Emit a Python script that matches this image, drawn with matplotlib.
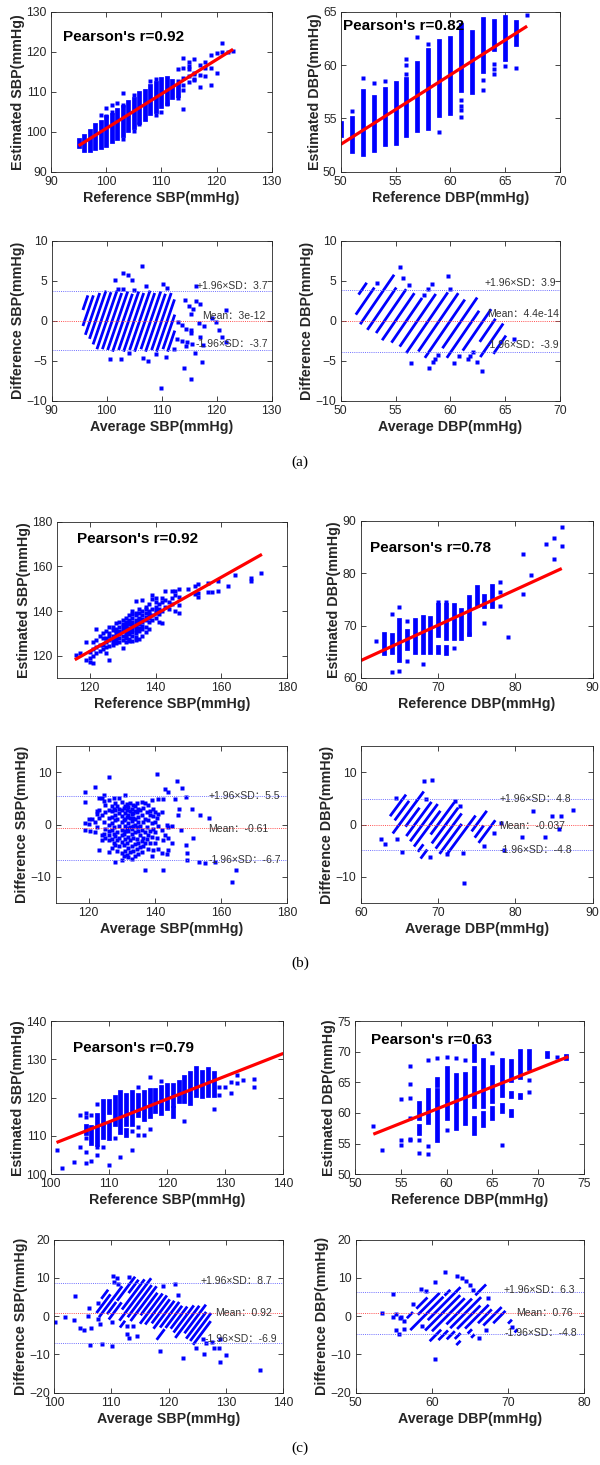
import numpy as np
import matplotlib
matplotlib.use("Agg")
import matplotlib.pyplot as plt
from matplotlib.collections import LineCollection

plt.rcParams['font.family'] = ['Liberation Sans', 'Noto Sans CJK SC', 'DejaVu Sans']

BLUE = '#0000ff'
INK = '#262626'

# ---------------- data ----------------
# reference values sit on integer columns; each column has a dense range of
# estimated values (lo..hi) plus some isolated points

# (a) SBP
a_sbp_ref = [95, 96, 97, 98, 99, 100, 101, 102, 103, 104, 105, 106, 107, 108, 109, 110, 111, 112, 113]
a_sbp_lo = [96.5, 95.5, 95.4, 95.9, 96.2, 96.6, 97.6, 98.5, 99.3, 100.5, 101.3, 102.5, 103.3, 104.6, 105.3, 106.5, 107.3, 108.6, 109.3]
a_sbp_hi = [98, 99, 100.3, 101.6, 102.4, 103.6, 104.3, 105.5, 106.2, 107.5, 108.3, 109.6, 110.3, 111.5, 112.2, 113.3, 113.5, 112.6, 111.6]
a_sbp_xref = [113, 114, 115, 116, 116, 116, 116, 117, 114, 115, 116, 117, 118, 118, 120, 118, 119, 120, 121, 122,
              121, 117, 119, 114, 111, 110, 109, 106, 105, 103, 100, 101, 102, 99, 100, 103, 105, 108, 109, 103,
              101, 123, 113, 114, 115, 113, 114, 115, 119, 115, 114]
a_sbp_xest = [115.6, 115.9, 115.8, 114.8, 114.5, 113.3, 112.9, 114.1, 118.4, 117.5, 118.1, 116.7, 116, 114, 114.8, 117.4, 119.3, 119.8, 119.9, 120,
              122.3, 111.1, 111.7, 105.6, 106.9, 105, 104.3, 102, 100.2, 98.2, 106, 106.7, 107.1, 104.1, 104, 109.8, 109.3, 112.6, 113.1, 106.8,
              105, 120.3, 112.8, 113.5, 114, 108.5, 110.5, 112.5, 116, 116.5, 111.7]

# (a) DBP
a_dbp_ref = [50, 51, 52, 53, 54, 55, 56, 57, 58, 59, 60, 61, 62, 63, 64, 65, 66]
a_dbp_lo = [53.4, 51.9, 51.7, 52.0, 52.6, 52.7, 53.4, 53.9, 54.1, 55.3, 55.5, 57.7, 57.5, 59.4, 61.5, 60.6, 62.0]
a_dbp_hi = [54.6, 55.0, 57.6, 57.0, 57.8, 58.3, 58.7, 60.2, 61.4, 62.3, 62.5, 63.75, 63.1, 64.3, 64.1, 64.5, 64.0]
a_dbp_xref = [51, 52, 53, 54, 56, 56, 56, 57, 58, 59, 61, 61, 61, 61, 63, 63, 64, 64, 64, 65, 66, 67]
a_dbp_xest = [55.7, 58.75, 58.3, 58.5, 59.2, 60.0, 60.6, 62.6, 62.0, 53.75, 56.7, 56.2, 55.8, 55.1, 58.6, 57.7, 60.1, 59.6, 59.2, 59.9, 59.7, 64.7]

# (b) SBP: scattered points, estimated values grouped by reference
b_sbp_ref = [116, 117, 119, 120, 121, 122, 123, 124, 125, 126, 127, 128, 129, 130, 131, 132, 133, 134, 135, 136,
             137, 138, 139, 140, 141, 142, 143, 144, 145, 146, 147, 150, 152, 153, 156, 157, 159, 162, 164, 169, 172]
b_sbp_est = [[120.5], [121], [126, 118], [117, 119, 121.5], [116.5, 120, 123, 126], [132, 124, 121, 127], [125, 129, 122],
             [128, 130, 125, 123], [121, 126, 131, 128, 124], [118, 130, 127, 124.5, 133, 129],
             [129, 131.5, 125, 127.5, 133, 126], [134.5, 130, 127, 132, 125.5, 128.5, 131],
             [135, 131, 128, 133, 126, 129.5, 130.5], [136, 132, 129, 134, 127, 131, 123.5, 133.5],
             [137, 133, 130, 135, 128, 131.5, 126, 134, 129], [138, 134, 131, 136, 127.5, 132.5, 129.5, 135, 126.5],
             [140, 135, 132, 137, 129, 133.5, 130.5, 138.5, 126.5, 134], [144.5, 136, 133, 138, 130, 134.5, 131.5, 139, 127, 128.5],
             [141, 137, 134, 139, 131, 135.5, 132.5, 127.5, 136.5], [145, 138, 135, 140, 132, 136.5, 133.5, 129],
             [142, 139, 136, 141, 133, 137.5, 130.5], [143, 140, 137, 135, 138.5, 132], [145.5, 141, 138, 136, 147],
             [144, 142, 139, 137, 140.5, 146], [141, 143, 138.5, 135], [146, 144, 140, 134.5], [142, 145, 149],
             [144, 141], [149, 143, 146], [140, 149, 147], [146.5, 139, 142.5, 150], [150], [151, 147.5],
             [148, 146.5, 152], [152.5, 148.5], [148.5], [149, 153.5], [151], [156], [155, 153.5], [157]]

# (b) SBP Bland-Altman: differences grouped by average
b_ba_sbp_avg = [119, 120, 120.5, 121, 122, 122.5, 123, 124, 124.5, 125, 126, 127, 127.5, 128, 128.5, 129, 130, 130.5,
                131, 131.5, 132, 132.5, 133, 133.5, 134, 134.5, 135, 135.5, 136, 136.5, 137, 137.5, 138, 138.5, 139,
                139.5, 140, 140.5, 141, 142, 142.5, 143, 143.5, 144, 145, 146.2, 146.8, 147.1, 147.3, 147.8, 148.1,
                149.3, 149.6, 151.1, 151.6, 153.2, 153.7, 155.2, 156.4, 158.2, 163.3, 164.6]
b_ba_sbp_diff = [[6.2, 4.3, 0.2, -1.1], [1.1, 0.1], [-1.2], [1.0], [7.2, 0.5, -1.5], [2.6, 2.1, -0.5], [5, -4.9, 2.8, 1.2],
                 [5, 1.8, -2, -3], [5.6, 4.5, 0.5, -1.8], [2.3, -0.8, -2.5, 3.8], [9.1, 4.6, -5.2, 2.7, 1.2, -1.2, 0, -3, -2],
                 [3.5, 1.5, 0.2, -2.8, -4.5, 2.5, -1], [5, 3, -0.5, -3.5, -1.8], [-7.1, 2.8, 0.8, -2.2, 4.2, -4, 1.9],
                 [3.5, 1, -1.5, -3, -5], [5, -0.3, 2.2, -2.6, -4.2, 3], [4.3, -6.7, 1.6, -1, -3.3, 2.7, 0.5, -2.1, -5.5],
                 [3.2, 0.8, -1.8, -4, -6], [5.6, 2.2, -0.2, -2.8, 1, -5, 3.6, -1.2], [2.8, -0.6, -3.5, 1.5, -5.8, 4],
                 [3.3, 0.3, -2.3, -4.5, 1.8, -1.2, -6.3], [2.5, -0.4, -3, -5.3, 1.2, 4.2], [3, 0.6, -1.8, -4.2, 2, -0.9, -6.5],
                 [2.2, -0.2, -2.6, -5, 1.2, 3.8], [3.5, 1, -1.5, -3.8, -6, 0, 2.5], [2.4, -0.4, -2.8, -4.7, 4.2],
                 [1.5, -1.2, -3.5, 3, -5.6, 0.4], [2.7, -0.2, -2, -4.3], [1.8, -1, 4.3, -3.2, -5.2], [3.2, 0.4, -2.5, -4.2],
                 [1, -8.7, -1.5, 4.2, -3.6], [2.4, -0.5, -2.8], [3.7, 0.8, -2, -4.6], [1.8, -1.2, -3.5, 2.5],
                 [4.6, 0.3, -2.3, -6.1], [1.6, -0.8, -4.8, 3], [2.3, -1.5, -3.5, 0.5], [9.7, 1.2, -2.6], [4.9, -0.2, -4.6, 2],
                 [2.3, -5.4, -1], [-8.7, 4.9, -3], [6.8, -2], [-5.6, 0], [6.3, -0.4, -2.5, -4.9], [-0.2, -3.6], [4.8], [8.3],
                 [1.8], [3.0], [-1], [6.9], [5.3, -3.9], [-5.4, -6.8], [3.0], [-2.5], [-7.1], [1.9], [-7.3], [1.3], [-7.1],
                 [-10.9], [-8.6]]

# (b) DBP
b_dbp_ref = [63, 64, 65, 66, 67, 68, 69, 70, 70, 71, 71, 72, 73, 74, 75, 76, 77]
b_dbp_lo = [64.8, 65.0, 63.5, 65.8, 65.0, 65.0, 65.0, 68.3, 65.0, 67.6, 64.7, 67.6, 67.6, 68.5, 73.9, 73.7, 73.7]
b_dbp_hi = [68.5, 68.3, 71.1, 69.0, 71.1, 71.7, 71.4, 74.0, 66.0, 74.0, 66.0, 73.9, 72.9, 75.5, 77.4, 75.6, 77.6]
b_dbp_xref = [62, 64, 64, 65, 65, 66, 66, 68, 70, 71, 72, 74, 76, 78, 78, 78, 79, 81, 81, 82, 84, 85, 85, 86, 86]
b_dbp_xest = [67.0, 72.3, 61.2, 73.5, 61.3, 70.9, 63.3, 62.7, 74.5, 74.6, 65.8, 68.4, 70.5, 78.3, 76.4, 73.8, 67.8,
              83.6, 76.1, 79.6, 85.6, 86.7, 82.7, 88.8, 85.2]

# (c) SBP
c_sbp_ref = [106, 107, 108, 109, 109, 110, 110, 111, 112, 113, 113, 114, 115, 116, 117, 118, 119, 120, 121, 121,
             122, 123, 124, 125, 126, 127, 128]
c_sbp_lo = [110.8, 108.1, 108.0, 113.3, 109.8, 116.3, 109.4, 113.0, 111.1, 113.0, 110.3, 113.0, 115.5, 114.3, 115.1,
            116.4, 116.0, 117.3, 118.2, 115.1, 119.0, 119.0, 118.6, 120.8, 120.4, 120.8, 120.8]
c_sbp_hi = [112.6, 112.4, 115.5, 119.0, 112.4, 119.2, 113.3, 120.3, 121.6, 120.8, 111.5, 121.5, 120.8, 121.6, 122.1,
            122.1, 122.7, 123.4, 123.4, 117.3, 124.2, 125.5, 126.4, 127.7, 126.8, 127.5, 126.4]
c_sbp_xref = [101, 102, 104, 105, 105, 106, 106, 106, 106, 106, 107, 107, 108, 108, 108, 109, 110, 111, 112, 114,
              114, 115, 115, 115, 116, 117, 117, 119, 123, 128, 129, 129, 130, 131, 131, 132, 132, 133, 135, 135,
              101, 143]
c_sbp_xest = [106.3, 101.7, 103.1, 115.5, 107.2, 116, 115, 109.4, 105.9, 102.9, 115.5, 103.5, 118.3, 107.2, 105, 107,
              102.4, 109.4, 104.6, 111.3, 106.3, 122.9, 112.4, 110.3, 110.3, 125.3, 111.9, 124.4, 114, 117, 122.9, 120.6,
              122.9, 124.2, 121.2, 125.9, 123.7, 124.6, 124.9, 122.9, 99.5, 129]

# (c) DBP
c_dbp_ref = [57, 57, 58, 59, 59, 60, 61, 62, 63, 63, 63, 64, 64, 65, 65, 66, 66, 67, 67, 67, 68, 68, 69, 71, 73]
c_dbp_lo = [59.2, 56.7, 58.6, 55.6, 64.6, 59.2, 57.5, 58.3, 68.7, 61.1, 56.7, 61.1, 58.0, 61.9, 59.2, 63.0, 60.3,
            65.4, 62.7, 59.7, 65.8, 62.6, 67.4, 69.3, 69.0]
c_dbp_hi = [61.6, 57.8, 63.8, 63.8, 65.6, 67.3, 66.2, 66.4, 71.0, 67.3, 59.2, 68.7, 60.0, 67.5, 60.8, 68.7, 61.3,
            68.5, 63.3, 60.3, 70.1, 63.0, 70.1, 69.8, 69.3]
c_dbp_xref = [52, 53, 55, 55, 55, 56, 56, 56, 56, 56, 56, 57, 57, 58, 58, 58, 59, 60, 60, 61, 62, 65, 66, 69, 69, 72]
c_dbp_xest = [57.9, 53.9, 62.2, 55.6, 54.8, 67.6, 64.8, 62.5, 59.1, 55.8, 55.6, 55.6, 53.5, 68.6, 54.6, 53.3, 69,
              69.1, 57.3, 69, 68.7, 69.8, 54.8, 65.3, 63.4, 69.2]

# regression lines: slope, intercept, x range
fit_slope = [0.861, 0.652, 0.831, 0.677, 0.596, 0.594]
fit_icpt = [14.7, 19.96, 22.2, 22.7, 48.1, 25.65]
fit_lo = [95, 50, 115.5, 60, 101, 52]
fit_hi = [123, 67, 172.3, 86, 140, 73.3]
pearson_r = ['0.92', '0.82', '0.92', '0.78', '0.79', '0.63']

# Bland-Altman limits: +1.96SD, mean, -1.96SD
ba_upper = [3.7, 3.9, 5.5, 4.8, 8.7, 6.3]
ba_mean = [3e-12, 4.4e-14, -0.61, -0.037, 0.92, 0.76]
ba_lower = [-3.7, -3.9, -6.7, -4.8, -6.9, -4.8]
ba_upper_txt = ['3.7', '3.9', '5.5', '4.8', '8.7', '6.3']
ba_mean_txt = ['3e-12', '4.4e-14', '-0.61', '-0.037', '0.92', '0.76']
ba_lower_txt = ['-3.7', '-3.9', '-6.7', '-4.8', '-6.9', '-4.8']

W, H = 600, 1465
fig = plt.figure(figsize=(W / 100, H / 100), dpi=100)


def rect(box):
    l, t, r, b = box
    return [l / W, 1 - b / H, (r - l) / W, (b - t) / H]


def style(ax, xlim, ylim, xticks, yticks):
    ax.set_xlim(xlim)
    ax.set_ylim(ylim)
    ax.set_xticks(xticks)
    ax.set_yticks(yticks)
    ax.tick_params(direction='in', top=True, right=True, length=3.5, width=0.6,
                   labelsize=8.7, colors=INK, pad=3)
    for s in ax.spines.values():
        s.set_linewidth(0.6)
        s.set_color(INK)


def flat(xs, groups):
    fx, fy = [], []
    for x, g in zip(xs, groups):
        for y in g:
            fx.append(x)
            fy.append(y)
    return np.array(fx, float), np.array(fy, float)


def scatter_panel(box, k, name, cols, pts, lims, ticks, rpos):
    ax = fig.add_axes(rect(box))
    if cols is not None:
        ref, lo, hi = cols
        ax.vlines(ref, lo, hi, colors=BLUE, linewidth=3.4, capstyle='projecting')
    ax.plot(pts[0], pts[1], 's', ms=3.4, color=BLUE, mec='none', ls='none')
    xs = np.array([fit_lo[k], fit_hi[k]])
    ax.plot(xs, fit_slope[k] * xs + fit_icpt[k], color='red', lw=2.3, solid_capstyle='butt')
    ax.text(rpos[0], rpos[1], "Pearson's r=" + pearson_r[k], transform=ax.transAxes,
            fontsize=11, fontweight='bold', va='center', ha='left', color='black')
    style(ax, lims[0], lims[1], ticks[0], ticks[1])
    ax.set_xlabel('Reference %s(mmHg)' % name, fontsize=10.3, fontweight='bold', color=INK, labelpad=2)
    ax.set_ylabel('Estimated %s(mmHg)' % name, fontsize=10.3, fontweight='bold', color=INK, labelpad=1)
    return ax


def ba_panel(box, k, name, cols, pts, lims, ticks, tx, tdy):
    ax = fig.add_axes(rect(box))
    if cols is not None:
        ref, lo, hi = cols
        # each reference column becomes a stripe in (mean, difference) space
        segs = [[((r + a) / 2, a - r), ((r + b) / 2, b - r)] for r, a, b in zip(ref, lo, hi)]
        ax.add_collection(LineCollection(segs, colors=BLUE, linewidths=2.0, capstyle='projecting'))
    ax.plot(pts[0], pts[1], 's', ms=2.4, color=BLUE, mec='none', ls='none')
    ax.axhline(ba_upper[k], color='#7070ff', lw=0.7, ls=(0, (1, 1.2)))
    ax.axhline(ba_mean[k], color='#ff5050', lw=0.7, ls=(0, (1, 1.2)))
    ax.axhline(ba_lower[k], color='#7070ff', lw=0.7, ls=(0, (1, 1.2)))
    tkw = dict(transform=ax.get_yaxis_transform(), fontsize=7.5, color='#333333', ha='left',
               va='center', family=['Liberation Sans', 'Noto Sans CJK SC'])
    span = lims[1][1] - lims[1][0]
    ax.text(tx[0], ba_upper[k] + tdy[0] * span, '+1.96×SD：' + ba_upper_txt[k], **tkw)
    ax.text(tx[1], ba_mean[k] + tdy[1] * span, 'Mean：' + ba_mean_txt[k], **tkw)
    ax.text(tx[2], ba_lower[k] + tdy[2] * span, '-1.96×SD：' + ba_lower_txt[k], **tkw)
    style(ax, lims[0], lims[1], ticks[0], ticks[1])
    ax.set_xlabel('Average %s(mmHg)' % name, fontsize=10.3, fontweight='bold', color=INK, labelpad=2)
    ax.set_ylabel('Difference %s(mmHg)' % name, fontsize=10.3, fontweight='bold', color=INK, labelpad=1)
    return ax


def ba_points(xr, xe):
    xr = np.array(xr, float)
    xe = np.array(xe, float)
    return (xr + xe) / 2, xe - xr


# ---------- (a) ----------
scatter_panel((51, 11.7, 271.7, 171.7), 0, 'SBP', (a_sbp_ref, a_sbp_lo, a_sbp_hi), (a_sbp_xref, a_sbp_xest),
              ((90, 130), (90, 130)), (range(90, 131, 10), range(90, 131, 10)), (0.056, 0.844))
scatter_panel((340.7, 11.7, 560, 171.7), 1, 'DBP', (a_dbp_ref, a_dbp_lo, a_dbp_hi), (a_dbp_xref, a_dbp_xest),
              ((50, 70), (50, 65)), (range(50, 71, 5), range(50, 66, 5)), (0.01, 0.91))
ba_panel((51.7, 240.7, 271.7, 400.7), 0, 'SBP', (a_sbp_ref, a_sbp_lo, a_sbp_hi), ba_points(a_sbp_xref, a_sbp_xest),
         ((90, 130), (-10, 10)), (range(90, 131, 10), range(-10, 11, 5)), (0.659, 0.682, 0.655), (0.03, 0.03, 0.04))
ba_panel((340.7, 240.7, 560, 400.7), 1, 'DBP', (a_dbp_ref, a_dbp_lo, a_dbp_hi), ba_points(a_dbp_xref, a_dbp_xest),
         ((50, 70), (-10, 10)), (range(50, 71, 5), range(-10, 11, 5)), (0.658, 0.666, 0.666), (0.04, 0.04, 0.04))

# ---------- (b) ----------
scatter_panel((56.7, 521.7, 287.3, 678), 2, 'SBP', None, flat(b_sbp_ref, b_sbp_est),
              ((110, 180), (110, 180)), (range(120, 181, 20), range(120, 181, 20)), (0.087, 0.887))
scatter_panel((360.7, 521, 592.7, 678), 3, 'DBP', (b_dbp_ref, b_dbp_lo, b_dbp_hi), (b_dbp_xref, b_dbp_xest),
              ((60, 90), (60, 90)), (range(60, 91, 10), range(60, 91, 10)), (0.04, 0.83))
ba_panel((55.7, 746, 287.3, 903), 2, 'SBP', None, flat(b_ba_sbp_avg, b_ba_sbp_diff),
         ((110, 180), (-15, 15)), (range(120, 181, 20), range(-10, 11, 10)), (0.659, 0.659, 0.659), (0.0, -0.01, 0.0))
ba_panel((360.7, 746, 592.7, 903), 3, 'DBP', (b_dbp_ref, b_dbp_lo, b_dbp_hi), ba_points(b_dbp_xref, b_dbp_xest),
         ((60, 90), (-15, 15)), (range(60, 91, 10), range(-10, 11, 10)), (0.6, 0.598, 0.6), (0.0, -0.01, 0.0))

# ---------- (c) ----------
scatter_panel((50.7, 1021, 283.3, 1174.3), 4, 'SBP', (c_sbp_ref, c_sbp_lo, c_sbp_hi), (c_sbp_xref, c_sbp_xest),
              ((100, 140), (100, 140)), (range(100, 141, 10), range(100, 141, 10)), (0.097, 0.826))
scatter_panel((355, 1021, 584, 1174.3), 5, 'DBP', (c_dbp_ref, c_dbp_lo, c_dbp_hi), (c_dbp_xref, c_dbp_xest),
              ((50, 75), (50, 75)), (range(50, 76, 5), range(50, 76, 5)), (0.07, 0.876))
ba_panel((54, 1239.5, 283.3, 1392.7), 4, 'SBP', (c_sbp_ref, c_sbp_lo, c_sbp_hi), ba_points(c_sbp_xref, c_sbp_xest),
         ((100, 140), (-20, 20)), (range(100, 141, 10), range(-20, 21, 10)), (0.641, 0.702, 0.658), (0.012, 0.0, 0.02))
ba_panel((355.7, 1239.5, 584, 1392.7), 5, 'DBP', (c_dbp_ref, c_dbp_lo, c_dbp_hi), ba_points(c_dbp_xref, c_dbp_xest),
         ((50, 80), (-20, 20)), (range(50, 81, 10), range(-20, 21, 10)), (0.647, 0.702, 0.65), (0.01, 0.0, 0.01))

for lab, y in (('(a)', 462), ('(b)', 963), ('(c)', 1448)):
    fig.text(0.5, 1 - y / H, lab, family='Liberation Serif', fontsize=11, ha='center', va='center', color='black')

fig.savefig('out.png', dpi=100, facecolor='white')
